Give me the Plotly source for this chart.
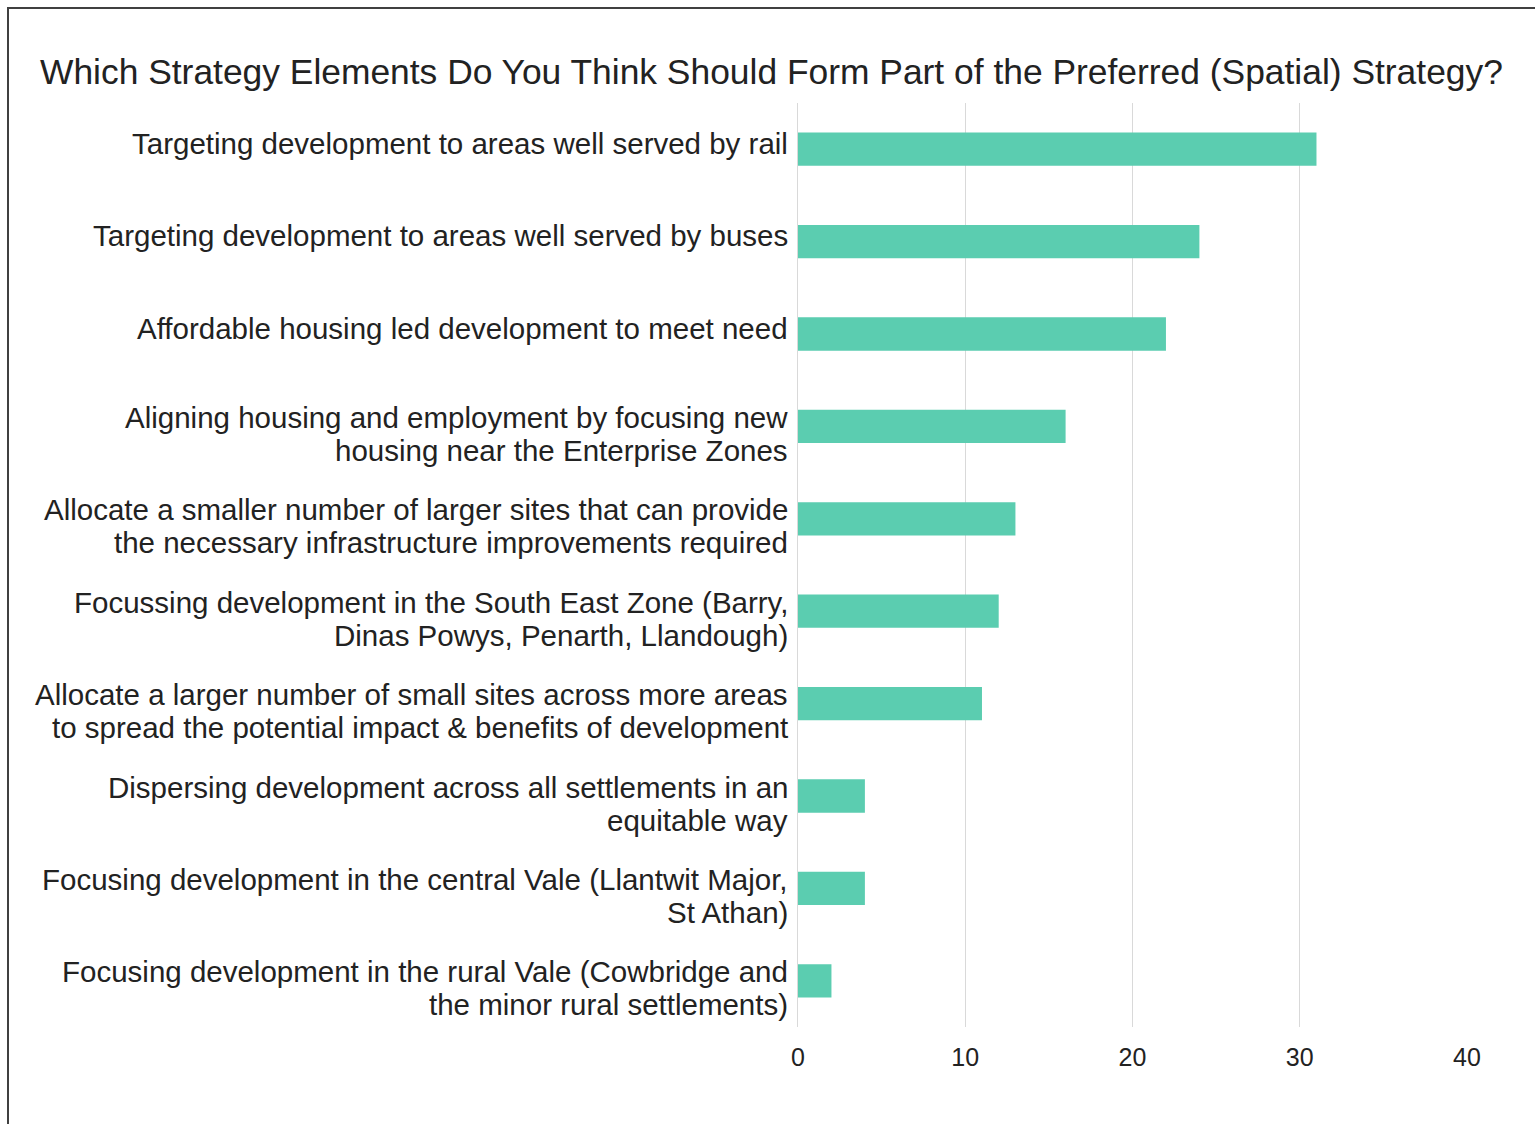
import plotly.graph_objects as go

# Survey responses: strategy elements and the number of respondents choosing each
categories = [
    "Targeting development to areas well served by rail",
    "Targeting development to areas well served by buses",
    "Affordable housing led development to meet need",
    "Aligning housing and employment by focusing new<br>housing near the Enterprise Zones",
    "Allocate a smaller number of larger sites that can provide<br>the necessary infrastructure improvements required",
    "Focussing development in the South East Zone (Barry,<br>Dinas Powys, Penarth, Llandough)",
    "Allocate a larger number of small sites across more areas<br>to spread the potential impact & benefits of development",
    "Dispersing development across all settlements in an<br>equitable way",
    "Focusing development in the central Vale (Llantwit Major,<br>St Athan)",
    "Focusing development in the rural Vale (Cowbridge and<br>the minor rural settlements)",
]
responses = [31, 24, 22, 16, 13, 12, 11, 4, 4, 2]
x_ticks = [0, 10, 20, 30, 40]

BAR_COLOR = "#5BCDB0"
TEXT_COLOR = "#222222"
FONT = "Liberation Sans, Arial, sans-serif"

fig = go.Figure(
    go.Bar(
        x=responses,
        y=categories,
        orientation="h",
        marker=dict(color=BAR_COLOR, line=dict(width=0)),
        width=0.36,
    )
)

W, H = 1535, 1124
x0, x1 = 798, 1467
y0, y1 = 103, 1027

# Category labels are drawn line by line so the line spacing stays tight
LINE_GAP = 33
annotations = []
for cat in categories:
    lines = cat.split("<br>")
    if len(lines) == 1:
        offsets = [-6]
    else:
        offsets = [-9, -9 + LINE_GAP]
    for line, off in zip(lines, offsets):
        annotations.append(
            dict(
                xref="paper", yref="y",
                x=0, y=cat,
                xanchor="right", yanchor="middle",
                xshift=-8, yshift=-off,
                text=line, showarrow=False,
                font=dict(family=FONT, size=29.5, color=TEXT_COLOR),
            )
        )

fig.update_layout(
    width=W,
    height=H,
    paper_bgcolor="white",
    plot_bgcolor="white",
    showlegend=False,
    margin=dict(l=x0, r=W - x1, t=y0, b=H - y1),
    title=dict(
        text="Which Strategy Elements Do You Think Should Form Part of the Preferred (Spatial) Strategy?",
        x=40 / W,
        xanchor="left",
        y=1 - 72 / H,
        yanchor="middle",
        font=dict(family=FONT, size=35.4, color=TEXT_COLOR),
    ),
    xaxis=dict(
        range=[0, 40],
        tickvals=x_ticks,
        ticktext=[str(v) for v in x_ticks],
        showgrid=True,
        gridcolor="#D9D9D9",
        gridwidth=1,
        zeroline=False,
        showline=False,
        ticks="",
        tickfont=dict(family=FONT, size=25, color=TEXT_COLOR),
        ticklabelstandoff=13,
    ),
    yaxis=dict(
        autorange="reversed",
        showgrid=False,
        showline=True,
        linecolor="#D9D9D9",
        linewidth=1,
        ticks="",
        showticklabels=False,
    ),
    annotations=annotations,
    shapes=[
        # outer frame around the chart
        dict(
            type="rect", xref="paper", yref="paper",
            x0=(8 - x0) / (x1 - x0), x1=(W + 20 - x0) / (x1 - x0),
            y0=-(H + 20 - y1) / (y1 - y0), y1=1 + (y0 - 8) / (y1 - y0),
            line=dict(color="#404040", width=2),
        )
    ],
)

fig.write_html("out.html")
